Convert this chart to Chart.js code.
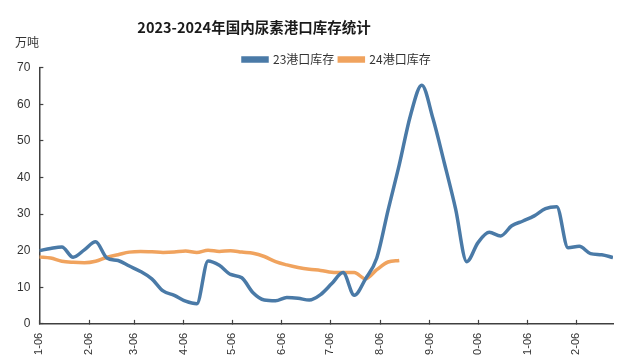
<!DOCTYPE html>
<html>
<head>
<meta charset="utf-8">
<script src="https://cdn.jsdelivr.net/npm/chart.js@4/dist/chart.umd.min.js"></script>
<style>
html,body{margin:0;padding:0;background:#fff;overflow:hidden;}
#wrap{width:640px;height:355px;overflow:hidden;position:relative;}
canvas{display:block;}
</style>
</head>
<body>
<div id="wrap"><canvas id="c" width="640" height="378"></canvas></div>
<script>
// weekly dates (MM-DD), year 2023 axis
const weeks = ["01-06","01-13","01-20","01-27","02-03","02-10","02-17","02-24","03-03","03-10","03-17","03-24","03-31","04-07","04-14","04-21","04-28","05-05","05-12","05-19","05-26","06-02","06-09","06-16","06-23","06-30","07-07","07-14","07-21","07-28","08-04","08-11","08-18","08-25","09-01","09-08","09-15","09-22","09-29","10-06","10-13","10-20","10-27","11-03","11-10","11-17","11-24","12-01","12-08","12-15","12-22","12-29"];
const monthTicks = ["01-06","02-06","03-06","04-06","05-06","06-06","07-06","08-06","09-06","10-06","11-06","12-06"];
const seriesNames = ["23港口库存","24港口库存"];
const port23 = [20.0,20.6,21.0,18.2,20.2,22.4,18.0,17.3,15.8,14.3,12.3,9.0,7.8,6.2,5.5,17.2,16.0,13.5,12.6,8.5,6.5,6.3,7.2,7.0,6.5,8.0,11.0,14.0,7.8,12.3,18.0,31.0,43.5,57.0,65.2,56.0,44.0,31.5,17.0,22.2,25.0,24.0,26.8,28.1,29.5,31.5,32.0,20.8,21.2,19.2,18.9,18.1];
const port24 = [18.3,18.0,17.1,16.8,16.7,17.1,18.2,18.9,19.6,19.8,19.7,19.5,19.6,19.9,19.5,20.1,19.8,20.0,19.6,19.3,18.4,17.0,16.1,15.4,14.9,14.6,14.1,14.0,14.0,12.3,14.8,16.9,17.3];
const yTicks = [0,10,20,30,40,50,60,70];
const titleText = "2023-2024年国内尿素港口库存统计";
const unitText = "万吨";

function dayOffset(s){
  const p = s.split('-').map(Number);
  return (Date.UTC(2023,p[0]-1,p[1]) - Date.UTC(2023,0,6))/864e5;
}
const tickLabelByDay = {};
monthTicks.forEach(s => { tickLabelByDay[dayOffset(s)] = s; });

const toPoints = arr => arr.map((v,i) => ({x: dayOffset(weeks[i]), y: v}));

const BLUE = '#4A7AA7';
const ORANGE = '#F0A35E';
const TXT = '#333333';
const AX = '#404040';

const shiftPlugin = {
  id: 'shiftBoxes',
  afterLayout(chart){
    const t = chart.titleBlock;
    if (t){ const d = 254 - (t.left + t.right)/2; t.left += d; t.right += d; }
    const s = chart.$subtitle || (chart.boxes||[]).find(b => b !== t && b.options && b.options.text === unitText);
    if (s){ const d = 15 - s.left; s.left += d; s.right += d; }
    const l = chart.legend;
    if (l && l.lineWidths){
      const pad = l.options.labels.padding;
      const start = ((l.left + pad) + (l.right - l.lineWidths[0]))/2;
      const d = 243 - start;
      l.left += d; l.right += d; l.top += 8; l.bottom += 8;
    }
  }
};

new Chart(document.getElementById('c'), {
  type: 'line',
  data: {
    datasets: [
      {label: seriesNames[0], data: toPoints(port23), borderColor: BLUE, backgroundColor: BLUE, borderWidth: 3.5, pointRadius: 0, tension: 0.4, cubicInterpolationMode: 'monotone', fill: false},
      {label: seriesNames[1], data: toPoints(port24), borderColor: ORANGE, backgroundColor: ORANGE, borderWidth: 3.5, pointRadius: 0, tension: 0.4, cubicInterpolationMode: 'monotone', fill: false}
    ]
  },
  plugins: [shiftPlugin],
  options: {
    responsive: false,
    devicePixelRatio: 1,
    animation: false,
    layout: {padding: {left: 4, right: 27, top: 0, bottom: 4}},
    plugins: {
      title: {display: true, text: titleText, color: '#1a1a1a', font: {family: '"Noto Sans CJK SC", sans-serif', size: 14.5, weight: 'bold'}, padding: {top: 18.3, bottom: 0}},
      subtitle: {display: true, text: unitText, align: 'start', color: TXT, font: {family: '"Noto Sans CJK SC", sans-serif', size: 12, weight: 'normal'}, padding: {top: 0, bottom: -9.5}},
      legend: {display: true, position: 'top', align: 'center', labels: {boxWidth: 24, boxHeight: 3, padding: 5, color: TXT, font: {family: '"Noto Sans CJK SC", sans-serif', size: 12}}},
      tooltip: {enabled: false}
    },
    scales: {
      x: {
        type: 'linear',
        min: dayOffset(weeks[0]),
        max: dayOffset(weeks[weeks.length-1]),
        afterBuildTicks: sc => { sc.ticks = monthTicks.map(s => ({value: dayOffset(s)})); },
        ticks: {autoSkip: false, maxRotation: 90, minRotation: 90, padding: 13, color: TXT, font: {family: '"Liberation Sans", Arial, sans-serif', size: 11}, callback: v => tickLabelByDay[v]},
        grid: {drawOnChartArea: false, drawTicks: true, tickLength: -4, tickColor: AX, tickWidth: 1.2},
        border: {display: true, color: AX, width: 1.5}
      },
      y: {
        min: yTicks[0], max: yTicks[yTicks.length-1],
        afterBuildTicks: sc => { sc.ticks = yTicks.map(v => ({value: v})); },
        ticks: {padding: 13, color: TXT, font: {family: '"Liberation Sans", Arial, sans-serif', size: 12}},
        grid: {drawOnChartArea: false, drawTicks: true, tickLength: -4, tickColor: AX, tickWidth: 1.2},
        border: {display: true, color: AX, width: 1.5}
      }
    }
  }
});
</script>
</body>
</html>
